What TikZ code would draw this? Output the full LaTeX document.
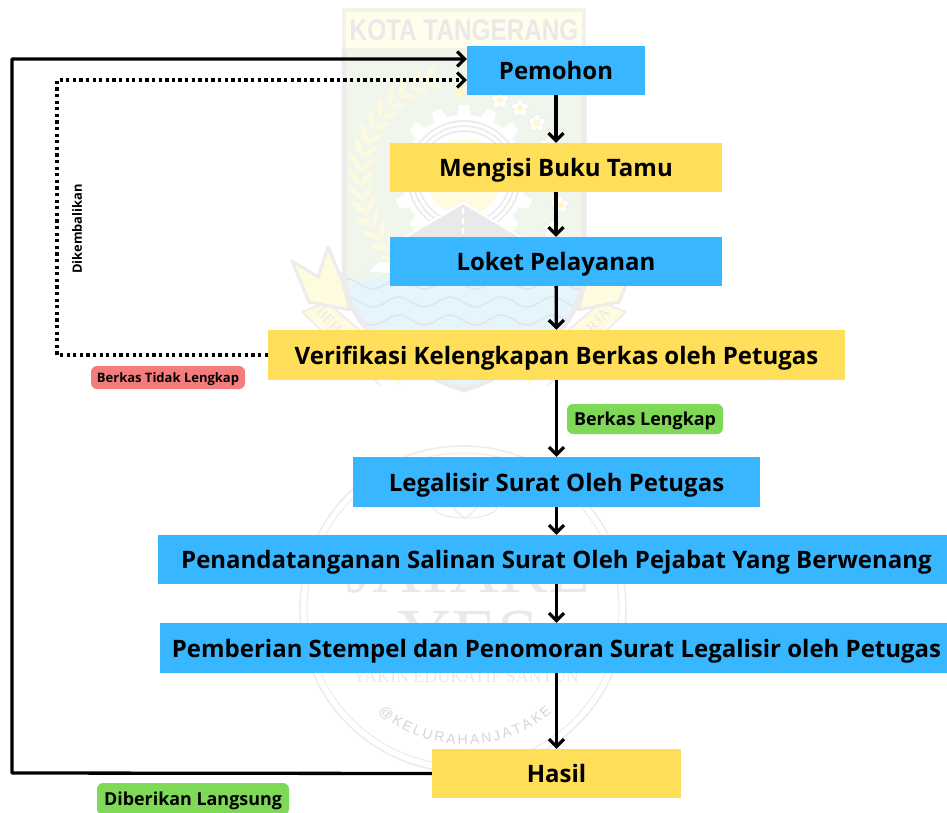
\documentclass[tikz,border=0pt]{standalone}
\usepackage{fontspec}
\setmainfont{Open Sans}
\newfontfamily\wmserif{Liberation Serif}
\newfontfamily\wmsans{Liberation Sans}
\usetikzlibrary{arrows.meta,decorations.text,calc}
\definecolor{boxblue}{HTML}{38B6FF}
\definecolor{boxyellow}{HTML}{FFDE59}
\definecolor{pillgreen}{HTML}{7ED957}
\definecolor{pillred}{HTML}{F47C7C}
\definecolor{wmgrey}{HTML}{ECECEC}
\definecolor{wmtext}{HTML}{E9E9E9}
\definecolor{wmyellow}{HTML}{FFFBDF}
\definecolor{wmgreen}{HTML}{F1F6EC}
\definecolor{wmblue}{HTML}{E6F5FC}
\definecolor{wmwave}{HTML}{DDE7EC}
\definecolor{wmlotus}{HTML}{E6E8F4}
\tikzset{
  x=1pt,y=-1pt,
  flowbox/.style={rectangle,inner sep=0pt,text=black,text height=24pt,text depth=6pt,font=\fontsize{24}{30}\selectfont\bfseries},
  blueflow/.style={flowbox,fill=boxblue},
  yellowflow/.style={flowbox,fill=boxyellow},
  pill/.style={rectangle,rounded corners=6pt,inner sep=0pt,text=black,text height=18pt,text depth=5pt,font=\fontsize{17.9}{20}\selectfont\bfseries},
  link/.style={line width=3.3pt,draw=black,-{Straight Barb[length=7.5pt,width=15pt,line width=3.2pt]}},
  dotlink/.style={line width=3.3pt,draw=black,dash pattern=on 3.3pt off 3.3pt,-{Straight Barb[length=7.5pt,width=15pt,line width=3.2pt,sep=0pt]}},
  wmline/.style={draw=wmgrey,line width=1.4pt}
}
\begin{document}
\begin{tikzpicture}
\useasboundingbox (0,0) rectangle (947,813);
\fill[white] (0,0) rectangle (947,813);
% --- watermark: city crest ---
\fill[wmyellow!60!white] (342,8) rectangle (586,50);
\draw[wmgrey!60!wmyellow,line width=4pt] (344,10) rectangle (584,50);
\begin{scope}
\node[text=wmtext,inner sep=0pt,xscale=.81,font=\fontsize{30}{32}\selectfont\bfseries\wmsans] (wmcity) at (464,30) {KOTA TANGERANG};
\end{scope}
% crowns and ribbons
\foreach \m in {0,1}{
  \begin{scope}[shift={(928*\m,0)},xscale={1-2*\m}]
    \fill[wmyellow] (302,312) -- (327,302) -- (400,365) -- (400,385) -- cycle;
    \draw[wmgrey,line width=1.6pt] (302,312) -- (327,302) -- (400,365);
    \draw[wmgrey,line width=1.6pt] (302,312) -- (380,385);
    \fill[wmyellow,draw=wmgrey,line width=3pt,line join=round] (292,261) -- (318,277) -- (328,247) -- (342,280) -- (350,310) -- (309,302) -- cycle;
  \end{scope}
}
\node[text=wmtext,inner sep=0pt,rotate=-48,font=\fontsize{15}{16}\selectfont\wmserif] (wmbeh) at (329,320) {BEH};
\node[text=wmtext,inner sep=0pt,rotate=48,font=\fontsize{15}{16}\selectfont\wmserif] (wmrja) at (598,320) {RJA};
% shield
\def\shieldpath{(344,50) -- (584,50) -- (584,270) .. controls (584,330) and (520,372) .. (464,390) .. controls (408,372) and (344,330) .. (344,270) -- cycle}
\fill[wmgreen] \shieldpath;
\begin{scope}
  \clip \shieldpath;
  \fill[wmblue] (330,300) .. controls (380,255) and (550,255) .. (600,300) -- (600,400) -- (330,400) -- cycle;
  \foreach \wy in {284,302,320,338,356}{
    \draw[wmwave,line width=1.5pt,smooth] plot[domain=340:590,samples=70] (\x,{\wy+5*sin(\x*7)});
  }
  \fill[white,draw=wmgrey] (368,272) -- (378,262) -- (396,262) -- (396,274) -- cycle;
\end{scope}
\draw[wmgrey,line width=5pt] (344,50) -- (344,270) .. controls (344,330) and (408,372) .. (464,390) .. controls (520,372) and (584,330) .. (584,270) -- (584,50);
% wheat wreath
\foreach \a in {113,121,...,235}{
  \pgfmathsetmacro{\ax}{464+103*cos(\a)}
  \pgfmathsetmacro{\ay}{177-103*sin(\a)}
  \pgfmathsetmacro{\bx}{464+116*cos(\a-9)}
  \pgfmathsetmacro{\by}{177-116*sin(\a-9)}
  \pgfmathsetmacro{\cx}{464+92*cos(\a-9)}
  \pgfmathsetmacro{\cy}{177-92*sin(\a-9)}
  \fill[wmyellow!92!wmtext] (\ax,\ay) to[bend left=28] (\bx,\by) to[bend left=28] cycle;
  \fill[wmyellow!92!wmtext] (\ax,\ay) to[bend left=28] (\cx,\cy) to[bend left=28] cycle;
}
% flowers
\foreach \fx/\fy in {500/100,520/108,537/123,548/145,558/180,560/205,552/230}{
  \foreach \p in {0,72,...,288}{
    \fill[white,draw=wmgrey,line width=.5pt] ({\fx+5*cos(\p+90)},{\fy-5*sin(\p+90)}) circle (3.6);
  }
  \fill[white] (\fx,\fy) circle (5);
  \fill[wmyellow!85!boxyellow] (\fx,\fy) circle (3.4);
}
\fill[wmyellow!85!boxyellow] (454,88) -- (468,88) -- (458,100) -- cycle;
% gear
\fill[white] (464,177) circle (62);
\foreach \t in {0,22.5,...,337.5}{
  \fill[white] ({464+60*cos(\t-7)},{177-60*sin(\t-7)}) -- ({464+72*cos(\t-4)},{177-72*sin(\t-4)}) -- ({464+72*cos(\t+4)},{177-72*sin(\t+4)}) -- ({464+60*cos(\t+7)},{177-60*sin(\t+7)}) -- cycle;
}
\draw[wmgrey,line width=1.8pt] (464,177) circle (56);
\draw[wmgrey,line width=1.8pt] (464,177) circle (51);
\draw[wmgrey,line width=1.8pt] (464,177) circle (46);
\fill[wmyellow] (464,177) circle (38);
\fill[wmtext,draw=white,line width=2pt] (463,203) -- (534,245) -- (392,245) -- cycle;
\draw[white,line width=1.2pt,dash pattern=on 6pt off 4pt] (463,208) -- (463,240);
% --- watermark: seal ---
\draw[wmgrey,line width=1.5pt] (463,609) circle (163);
\draw[wmgrey,line width=1pt] (463,609) circle (156);
\draw[wmlotus,line width=1pt] (465,518) .. controls (445,518) and (433,512) .. (433,507);
\draw[wmlotus,line width=1pt] (465,518) .. controls (485,518) and (497,512) .. (497,507);
\draw[wmlotus,line width=1pt] (465,518) .. controls (452,510) and (452,505) .. (452,500);
\draw[wmlotus,line width=1pt] (465,518) .. controls (478,510) and (478,505) .. (478,500);
\node[text=wmtext,inner sep=0pt,anchor=base,font=\fontsize{68}{70}\selectfont\wmserif] (wmjat) at (468,592) {JATAKE};
\node[text=wmtext,inner sep=0pt,anchor=base,font=\fontsize{75}{78}\selectfont\wmserif] (wmyes) at (468,660) {YES};
\node[text=wmtext,inner sep=0pt,font=\fontsize{18}{20}\selectfont\wmserif] (wmyakin) at (466,677) {YAKIN EDUKATIF SANTUN};
\path[decorate,decoration={text along path,text align={fit to path},
  text={|\wmsans\fontsize{14}{16}\selectfont\color{wmtext!92!black}|@KELURAHANJATAKE}}]
  (378,712) .. controls (425,755) and (505,755) .. (552,712);
% --- flow boxes ---
\node[blueflow,minimum width=178,minimum height=49] (pem) at (556,70.5) {Pemohon};
\node[yellowflow,minimum width=332,minimum height=49] (buku) at (556,167.5) {Mengisi Buku Tamu};
\node[blueflow,minimum width=332,minimum height=49] (loket) at (556,261.5) {Loket Pelayanan};
\node[yellowflow,minimum width=577,minimum height=50] (verif) at (556.5,355) {Verifikasi Kelengkapan Berkas oleh Petugas};
\node[blueflow,minimum width=407,minimum height=50] (legal) at (556.5,482) {Legalisir Surat Oleh Petugas};
\node[blueflow,minimum width=789,minimum height=49] (ttd) at (552.5,559.5) {\hspace{8pt}Penandatanganan Salinan Surat Oleh Pejabat Yang Berwenang};
\node[blueflow,minimum width=787,minimum height=50] (stempel) at (553.5,648) {\hspace{6pt}Pemberian Stempel dan Penomoran Surat Legalisir oleh Petugas};
\node[yellowflow,minimum width=249,minimum height=49] (hasil) at (556.5,773.5) {Hasil};
% --- labels ---
\node[pill,fill=pillred,minimum width=154,minimum height=23,text height=14pt,text depth=4.7pt,font=\fontsize{13}{16}\selectfont\bfseries] (ltidak) at (168,377.5) {Berkas Tidak Lengkap};
\node[pill,fill=pillgreen,minimum width=156,minimum height=30] (llengkap) at (645,419) {Berkas Lengkap};
\node[pill,fill=pillgreen,minimum width=192,minimum height=32] (lberi) at (193,799) {Diberikan Langsung};
\node[rotate=90,inner sep=0pt,text=black,font=\fontsize{12.9}{15}\selectfont\bfseries] (lkembali) at (77,229) {Dikembalikan};
% --- connectors ---
\coordinate (solidin) at ($(pem.west)+(0,-11.5)$);
\coordinate (dotin) at ($(pem.west)+(0,9.5)$);
\coordinate (solidc) at (12,59);
\coordinate (solidd) at (12,773);
\coordinate (dotc) at (57,80);
\coordinate (dotd) at (57,355);
\draw[link] (pem) -- (buku);
\draw[link] (buku) -- (loket);
\draw[link] (loket) -- (verif);
\draw[link] (verif) -- (legal);
\draw[link] (legal) -- (ttd.north -| legal);
\draw[link] (ttd.south -| legal) -- (stempel.north -| legal);
\draw[link] (stempel.south -| legal) -- (hasil);
\draw[link,line join=round] (hasil.west) -- (solidd) -- (solidc) -- (solidin);
\draw[dotlink,line join=round] (verif.west) -- (dotd) -- (dotc) -- (dotin);
\end{tikzpicture}
\end{document}
